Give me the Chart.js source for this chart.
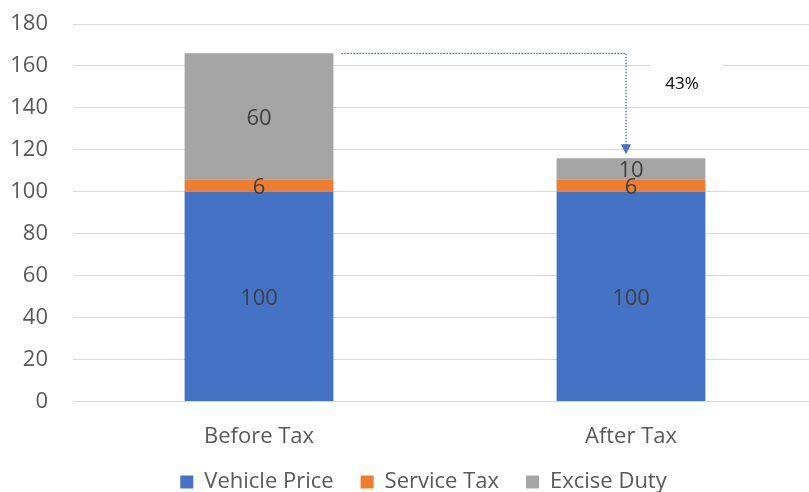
<!DOCTYPE html>
<html>
<head>
<meta charset="utf-8">
<script src="https://cdn.jsdelivr.net/npm/chart.js@4/dist/chart.umd.min.js"></script>
<style>
html,body{margin:0;padding:0;background:#fff;}
#wrap{width:809px;height:492px;overflow:hidden;position:relative;}
canvas{display:block;}
</style>
</head>
<body>
<div id="wrap"><canvas id="c" width="817" height="492"></canvas></div>
<script>
const categories = ["Before Tax", "After Tax"];
const vehiclePrice = [100, 100];
const serviceTax = [6, 6];
const exciseDuty = [60, 10];
const yTicks = [0, 20, 40, 60, 80, 100, 120, 140, 160, 180];

const FONT = "'Open Sans', sans-serif";
const totals = categories.map((_, i) => vehiclePrice[i] + serviceTax[i] + exciseDuty[i]);
const pctLabel = Math.round((totals[0] - totals[1]) / totals[1] * 100) + "%";

const segLabels = {
  id: 'segLabels',
  afterDatasetsDraw(chart) {
    const ctx = chart.ctx;
    ctx.save();
    ctx.font = "22px " + FONT;
    ctx.fillStyle = "#404040";
    ctx.textAlign = "center";
    ctx.textBaseline = "middle";
    chart.data.datasets.forEach((ds, di) => {
      const meta = chart.getDatasetMeta(di);
      meta.data.forEach((el, i) => {
        ctx.fillText(String(ds.data[i]), el.x, (el.y + el.base) / 2 + 2);
      });
    });
    ctx.restore();
  }
};

const legendShift = {
  id: 'legendShift',
  afterLayout(chart) {
    const lg = chart.legend;
    if (!lg) return;
    lg.left += 30;
    lg.top -= 20;
    lg.bottom -= 20;
  }
};

const arrowPlugin = {
  id: 'arrowPlugin',
  afterDatasetsDraw(chart) {
    const ctx = chart.ctx;
    const y = chart.scales.y;
    const top = chart.getDatasetMeta(2);
    const b0 = top.data[0], b1 = top.data[1];
    const x1 = b0.x + b0.width / 2 + 8;
    const yA = y.getPixelForValue(totals[0]);
    const x2 = b1.x - 5;
    const yB = y.getPixelForValue(totals[1]) - 4;
    ctx.save();
    const lx = x2 + 60, ly = yA + 31;
    ctx.fillStyle = "#ffffff";
    ctx.fillRect(lx - 36, ly - 22, 73, 42);
    ctx.font = "17px " + FONT;
    ctx.fillStyle = "#000000";
    ctx.textAlign = "center";
    ctx.textBaseline = "middle";
    ctx.fillText(pctLabel, lx - 4, ly);
    ctx.strokeStyle = "#4472c4";
    ctx.lineWidth = 1.3;
    ctx.setLineDash([1.5, 1.5]);
    ctx.beginPath();
    ctx.moveTo(x1, yA);
    ctx.lineTo(x2, yA);
    ctx.lineTo(x2, yB - 9);
    ctx.stroke();
    ctx.setLineDash([]);
    ctx.fillStyle = "#4472c4";
    ctx.beginPath();
    ctx.moveTo(x2 - 5, yB - 10);
    ctx.lineTo(x2 + 5, yB - 10);
    ctx.lineTo(x2, yB);
    ctx.closePath();
    ctx.fill();
    ctx.restore();
  }
};

new Chart(document.getElementById('c'), {
  type: 'bar',
  data: {
    labels: categories,
    datasets: [
      { label: 'Vehicle Price', data: vehiclePrice, backgroundColor: '#4472c4' },
      { label: 'Service Tax', data: serviceTax, backgroundColor: '#ed7d31' },
      { label: 'Excise Duty', data: exciseDuty, backgroundColor: '#a5a5a5' }
    ]
  },
  options: {
    responsive: false,
    animation: false,
    devicePixelRatio: 1,
    datasets: { bar: { categoryPercentage: 1.0, barPercentage: 0.4 } },
    layout: { padding: { left: 0, right: 0, top: 24, bottom: -31 } },
    plugins: {
      tooltip: { enabled: false },
      legend: {
        position: 'bottom',
        labels: {
          boxWidth: 13, boxHeight: 13, padding: 27,
          color: '#595959',
          font: { family: FONT, size: 22 }
        }
      }
    },
    scales: {
      x: {
        stacked: true,
        grid: { display: false },
        border: { display: false },
        ticks: { color: '#595959', font: { family: FONT, size: 22 }, padding: 14 }
      },
      y: {
        stacked: true,
        min: 0, max: 180,
        afterBuildTicks: s => { s.ticks = yTicks.map(v => ({ value: v })); },
        afterFit: s => { s.width = 73; s.paddingTop = 0; s.paddingBottom = 0; },
        grid: { color: '#d9d9d9', drawTicks: false, lineWidth: 1 },
        border: { display: false },
        ticks: { color: '#595959', font: { family: FONT, size: 22 }, padding: 25 }
      }
    }
  },
  plugins: [segLabels, arrowPlugin, legendShift]
});
</script>
</body>
</html>
